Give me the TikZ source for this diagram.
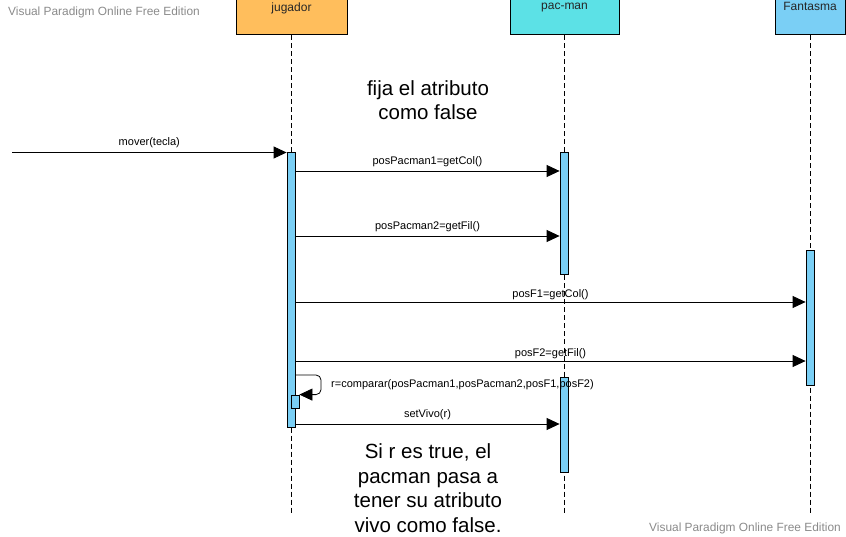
\documentclass[tikz,border=0pt]{standalone}
\usepackage{fontspec}
\setmainfont{Liberation Sans}
\usepackage{xcolor}
\usepackage{tikz}
\usetikzlibrary{arrows.meta,positioning}
\definecolor{jugcol}{HTML}{FFBE5C}
\definecolor{paccol}{HTML}{5CE1E6}
\definecolor{fancol}{HTML}{7ACFF5}
\definecolor{markgray}{HTML}{8A8A8A}
\tikzset{headbox/.style={draw,line width=1pt,minimum height=35pt,inner sep=0pt},
	headtext/.style={font=\fontsize{12}{14}\selectfont,text=black!85,inner sep=0pt},
	lifeline/.style={dash pattern=on 5pt off 3pt},
	actbox/.style={draw,fill=fancol,minimum width=8pt,inner sep=0pt,line width=0.8pt},
	msg/.style={-{Triangle[length=13pt,width=12pt]},line width=0.8pt},
	msglabel/.style={font=\fontsize{11}{13}\selectfont,above=4pt,inner sep=0pt},
	notetext/.style={font=\fontsize{20.5}{24.5}\selectfont,align=center},
	watermark/.style={font=\fontsize{11.9}{14}\selectfont,text=markgray,inner sep=0pt}}

\begin{document}
\begin{tikzpicture}[x=1pt,y=-1pt]
	\useasboundingbox (0,0) rectangle (846,537);
	% heads
	\node[headbox,fill=jugcol,minimum width=111pt] (jug) at (291.5,17.5) {};
	\node[headbox,fill=paccol,minimum width=109pt] (pac) at (564.5,17.5) {};
	\node[headbox,fill=fancol,minimum width=70pt] (fan) at (810,17.5) {};
	\node[headtext,below=3pt of jug.north] {jugador};
	\node[headtext,below=3pt of pac.north] {pac-man};
	\node[headtext,below=3pt of fan.north] {Fantasma};
	%
	\coordinate (jugEnd) at (291,513);
	\coordinate (pacEnd) at (564,513);
	\coordinate (fanEnd) at (810,513);
	\draw[lifeline] (jug.south -| jugEnd) -- (jugEnd);
	\draw[lifeline] (pac.south -| pacEnd) -- (pacEnd);
	\draw[lifeline] (fan.south -| fanEnd) -- (fanEnd);
	%
	\node[actbox,minimum height=275pt] (jugA) at (291,289.5) {};
	\node[actbox,minimum height=13pt] (selfA) at (295,401.5) {};
	\node[actbox,minimum height=122pt] (pacA) at (564,213) {};
	\node[actbox,minimum height=95pt] (pacB) at (564,424.5) {};
	\node[actbox,minimum height=135pt] (fanA) at (810,317.5) {};
	%
	\coordinate (start) at (12,152.5);
	\coordinate (y1) at (291,171);
	\coordinate (y2) at (291,236);
	\coordinate (y3) at (291,302);
	\coordinate (y4) at (291,361);
	\coordinate (y5) at (291,375);
	\coordinate (y6) at (291,424);
	\coordinate (loop) at (321,385);
	%
	\path[msg]
	(start) edge node[msglabel]{mover(tecla)} (jugA.west |- start)
	(jugA.east |- y1) edge node[msglabel]{posPacman1=getCol()} (pacA.west |- y1)
	(jugA.east |- y2) edge node[msglabel]{posPacman2=getFil()} (pacA.west |- y2)
	(jugA.east |- y3) edge node[msglabel,above=2pt]{posF1=getCol()} (fanA.west |- y3)
	(jugA.east |- y4) edge node[msglabel,above=2pt]{posF2=getFil()} (fanA.west |- y4)
	(jugA.east |- y6) edge node[msglabel]{setVivo(r)} (pacB.west |- y6);
	\draw[msg,rounded corners=5pt] (jugA.east |- y5) -- (loop |- y5) -- (loop |- selfA.north) -- (selfA.north east);
	\node[font=\fontsize{11}{13}\selectfont,anchor=west,inner sep=0pt] (cmp) at (331,385) {r=comparar(posPacman1,posPacman2,posF1,posF2)};
	%
	\node[notetext] (note1) at (428,100) {fija el atributo\\como false};
	\node[notetext] (note2) at (428,488) {Si r es true, el\\pacman pasa a\\tener su atributo\\vivo como false.};
	\node[watermark,anchor=west] (wm1) at (8,12) {Visual Paradigm Online Free Edition};
	\node[watermark,anchor=east] (wm2) at (841,528) {Visual Paradigm Online Free Edition};
\end{tikzpicture}
\end{document}
